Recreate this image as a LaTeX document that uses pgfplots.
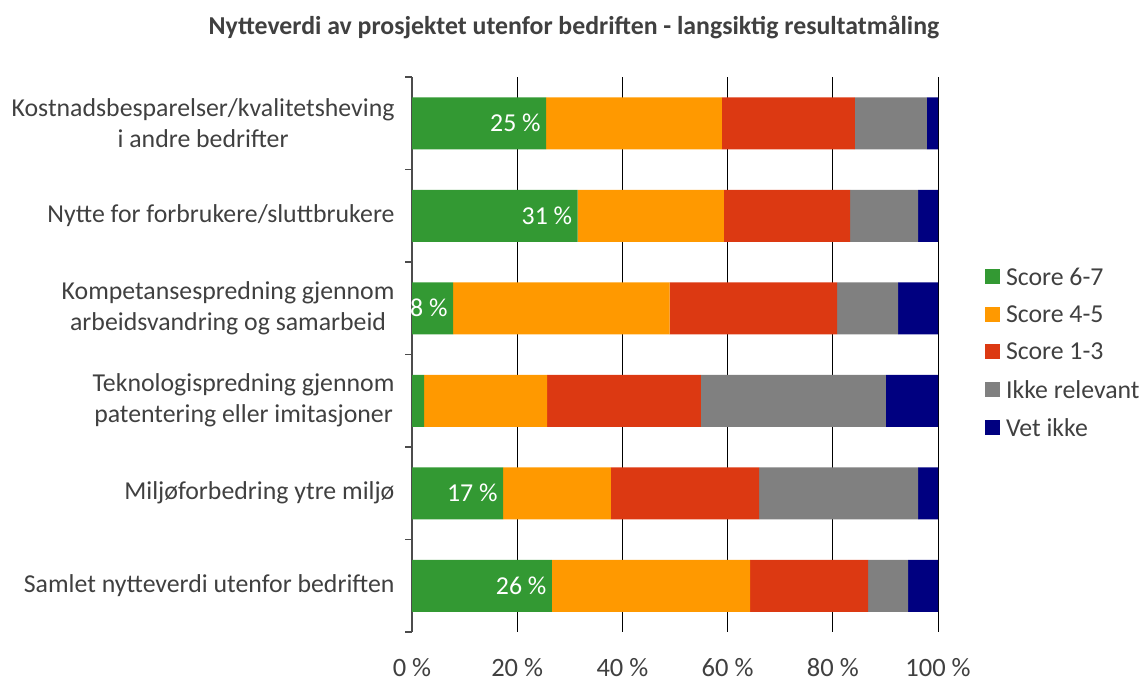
\documentclass[border=0pt]{standalone}
\usepackage{fontspec}
\setmainfont{Carlito}
\usepackage{pgfplots}
\pgfplotsset{compat=1.18}
\definecolor{cgreen}{HTML}{339933}
\definecolor{corange}{HTML}{FF9900}
\definecolor{cred}{HTML}{DC3912}
\definecolor{cgray}{HTML}{808080}
\definecolor{cblue}{HTML}{000080}
\definecolor{txt}{HTML}{404040}
\pgfplotsset{common/.style={
  at={(412pt,50pt)}, anchor=south west,
  scale only axis, width=526pt, height=555pt,
  xmin=0, xmax=100,
  ymin=-0.5, ymax=5.5, y dir=reverse}}
\begin{document}
\begin{tikzpicture}[x=1pt,y=1pt]
\useasboundingbox (0,0) rectangle (1147,682);
\node[font=\fontsize{25.8}{30}\selectfont\bfseries, text=txt] at (574,655) {Nytteverdi av prosjektet utenfor bedriften - langsiktig resultatmåling};
\begin{axis}[common,
  xbar stacked, bar width=52pt,
  axis x line*=bottom, axis y line*=left,
  x axis line style={draw=none},
  y axis line style={draw=black!70, line width=1.2pt},
  xtick={0,20,40,60,80,100},
  xticklabels={0 \%,20 \%,40 \%,60 \%,80 \%,100 \%},
  xmajorgrids, grid style={black, line width=0.9pt},
  major tick length=0pt,
  ytick={0,1,2,3,4,5},
  minor ytick={-0.5,0.5,1.5,2.5,3.5,4.5,5.5},
  minor tick length=7pt, tick align=outside,
  minor tick style={black!70, line width=1.2pt},
  yticklabels={{Kostnadsbesparelser/kvalitetsheving\\i andre bedrifter},
    {Nytte for forbrukere/sluttbrukere},
    {Kompetansespredning gjennom\\arbeidsvandring og samarbeid},
    {Teknologispredning gjennom\\patentering eller imitasjoner},
    {Miljøforbedring ytre miljø},
    {Samlet nytteverdi utenfor bedriften}},
  yticklabel style={align=center, font=\fontsize{25.8}{31}\selectfont, text=txt, xshift=-14pt},
  xticklabel style={font=\fontsize{26.5}{31}\selectfont, text=txt, inner sep=0pt, yshift=-26pt},
  legend style={at={(1.089,0.66)}, anchor=north west, draw=none, fill=none,
    font=\fontsize{25.8}{31}\selectfont, text=txt, row sep=15pt, inner sep=0pt,
    nodes={inner xsep=6pt}},
  legend cell align=left,
  legend image code/.code={\fill[#1] (0pt,-7pt) rectangle (15pt,8pt);},
]
\addplot[fill=cgreen, draw=none] coordinates {(25.5,0) (31.5,1) (7.8,2) (2.3,3) (17.3,4) (26.6,5)};
\addplot[fill=corange, draw=none] coordinates {(33.4,0) (27.8,1) (41.2,2) (23.4,3) (20.5,4) (37.7,5)};
\addplot[fill=cred, draw=none] coordinates {(25.3,0) (24.0,1) (31.8,2) (29.2,3) (28.2,4) (22.4,5)};
\addplot[fill=cgray, draw=none] coordinates {(13.7,0) (12.9,1) (11.6,2) (35.2,3) (30.2,4) (7.6,5)};
\addplot[fill=cblue, draw=none] coordinates {(2.1,0) (3.8,1) (7.6,2) (9.9,3) (3.8,4) (5.7,5)};
\legend{Score 6-7, Score 4-5, Score 1-3, Ikke relevant, Vet ikke}
\end{axis}
\begin{axis}[common, hide axis]
\addplot[draw=none, mark=none, point meta=explicit symbolic,
  nodes near coords, nodes near coords style={anchor=east, text=white, font=\fontsize{25.8}{30}\selectfont, xshift=-2pt}]
  coordinates {(25.5,0) [25 \%] (31.5,1) [31 \%] (7.8,2) [8 \%] (17.3,4) [17 \%] (26.6,5) [26 \%]};
\end{axis}
\end{tikzpicture}
\end{document}
